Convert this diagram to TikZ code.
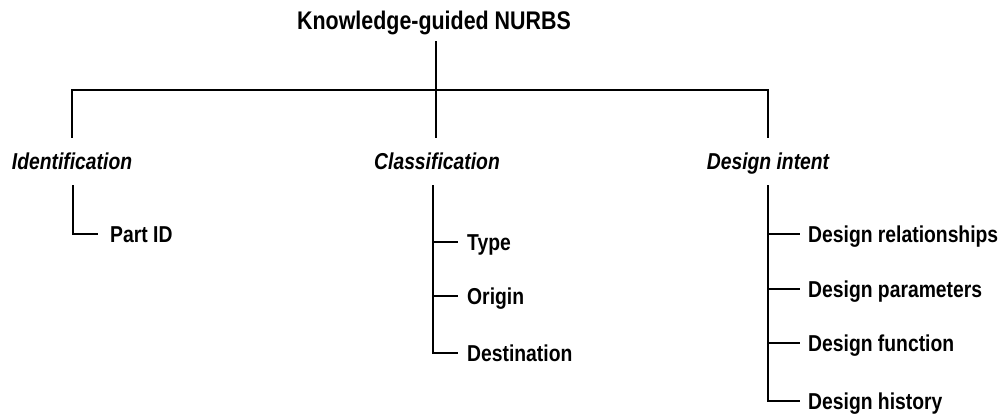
\documentclass[tikz,border=0pt]{standalone}
\usepackage{fontspec}
\setmainfont{Liberation Sans}[FakeStretch=0.84]
\begin{document}
\begin{tikzpicture}[x=1pt,y=-1pt,
  conn/.style={line width=2.4pt,line cap=rect},
  rootnode/.style={font=\fontsize{25.5}{28}\selectfont\bfseries,inner xsep=0pt,inner ysep=0pt,text height=18pt,text depth=0pt,outer ysep=13pt},
  catnode/.style={font=\fontsize{23}{26}\selectfont\bfseries\itshape,inner xsep=0pt,inner ysep=0pt,text height=16.5pt,text depth=0pt},
  leafnode/.style={font=\fontsize{23}{26}\selectfont\bfseries,anchor=west,inner xsep=10pt,inner ysep=0pt,text height=16.5pt,text depth=0pt}]
\useasboundingbox (0,0) rectangle (1002,413);
% root
\node[rootnode] (root) at (434,20) {Knowledge-guided NURBS};
\coordinate (hub) at (436,90);
\coordinate (hl) at (72,90);
\coordinate (hr) at (768,90);
\coordinate (dl) at (72,137);
\coordinate (dm) at (436,137);
\coordinate (dr) at (768,137);
% categories
\node[catnode] (c1) at (72,161) {Identification};
\node[catnode] (c2) at (437,161) {Classification};
\node[catnode] (c3) at (768,161) {Design intent};
% leaves
\node[leafnode,inner xsep=13pt] (p1) at (97,234) {Part ID};
\node[leafnode] (q1) at (457,242) {Type};
\node[leafnode] (q2) at (457,296) {Origin};
\node[leafnode] (q3) at (457,353) {Destination};
\node[leafnode,inner xsep=9pt] (r1) at (799,234) {Design relationships};
\node[leafnode,inner xsep=9pt] (r2) at (799,289) {Design parameters};
\node[leafnode,inner xsep=9pt] (r3) at (799,343) {Design function};
\node[leafnode,inner xsep=9pt] (r4) at (799,401) {Design history};
% subtree tops
\coordinate (s1) at (73,186);
\coordinate (s2) at (433,186);
\coordinate (s3) at (768,186);
% connectors
\draw[conn] (root.south -| hub) -- (hub);
\draw[conn] (dl) -- (hl) -- (hr) -- (dr);
\draw[conn] (hub) -- (dm);
\draw[conn] (s1) |- (p1.west);
\draw[conn] (s2) |- (q3.west);
\draw[conn] (s2 |- q1.west) -- (q1.west);
\draw[conn] (s2 |- q2.west) -- (q2.west);
\draw[conn] (s3) |- (r4.west);
\draw[conn] (s3 |- r1.west) -- (r1.west);
\draw[conn] (s3 |- r2.west) -- (r2.west);
\draw[conn] (s3 |- r3.west) -- (r3.west);
\end{tikzpicture}
\end{document}
